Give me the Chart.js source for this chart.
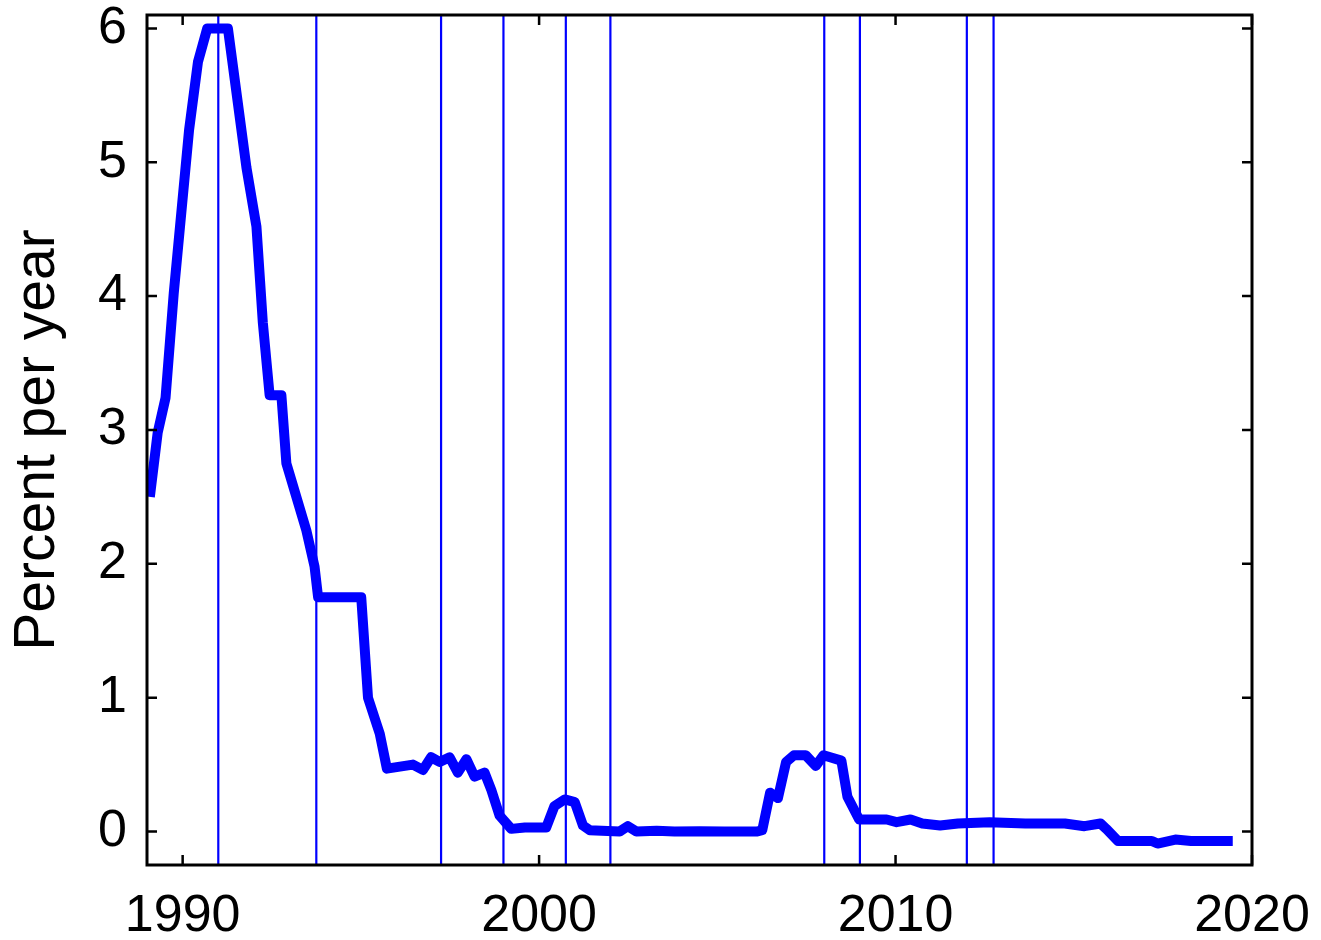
<!DOCTYPE html>
<html>
<head>
<meta charset="utf-8">
<title>Percent per year</title>
<script src="https://cdn.jsdelivr.net/npm/chart.js@4"></script>
<style>
  html, body { margin: 0; padding: 0; background: #fff; }
  #wrap { width: 1321px; height: 940px; }
</style>
</head>
<body>
<div id="wrap"><canvas id="rateChart" width="1321" height="940"></canvas></div>
<script>
// data
const years = [1989.08, 1989.30, 1989.52, 1989.75, 1990.18, 1990.43, 1990.69, 1991.27, 1991.79, 1992.07,
  1992.25, 1992.44, 1992.77, 1992.91, 1993.47, 1993.70, 1993.80, 1995.01, 1995.20, 1995.53,
  1995.73, 1996.46, 1996.74, 1996.97, 1997.21, 1997.49, 1997.72, 1997.96, 1998.19, 1998.47,
  1998.66, 1998.89, 1999.22, 1999.60, 2000.20, 2000.43, 2000.72, 2001.00, 2001.23, 2001.42,
  2002.26, 2002.49, 2002.73, 2003.30, 2003.80, 2004.50, 2005.20, 2005.70, 2006.10, 2006.26,
  2006.48, 2006.70, 2006.93, 2007.15, 2007.48, 2007.76, 2007.98, 2008.48, 2008.65, 2008.98,
  2009.75, 2010.03, 2010.42, 2010.75, 2011.25, 2011.75, 2012.64, 2013.64, 2014.19, 2014.75,
  2015.30, 2015.75, 2015.91, 2016.24, 2017.19, 2017.35, 2017.85, 2018.29, 2019.46];
const rates = [2.50, 2.98, 3.24, 4.02, 5.24, 5.75, 6.00, 6.00, 4.96, 4.52,
  3.80, 3.26, 3.26, 2.75, 2.25, 1.98, 1.75, 1.75, 1.00, 0.73,
  0.47, 0.50, 0.46, 0.555, 0.52, 0.555, 0.44, 0.54, 0.41, 0.44,
  0.31, 0.12, 0.02, 0.03, 0.03, 0.19, 0.24, 0.22, 0.045, 0.01,
  0.00, 0.04, 0.00, 0.005, 0.00, 0.003, 0.00, 0.00, 0.00, 0.01,
  0.29, 0.25, 0.52, 0.57, 0.57, 0.49, 0.57, 0.53, 0.26, 0.09,
  0.09, 0.07, 0.09, 0.06, 0.045, 0.06, 0.07, 0.06, 0.06, 0.06,
  0.04, 0.06, 0.02, -0.07, -0.07, -0.09, -0.06, -0.07, -0.07];
const markerYears = [1991.0, 1993.75, 1997.25, 1999.0, 2000.75, 2002.0, 2008.0, 2009.0, 2012.0, 2012.75];

const xTicks = [1990, 2000, 2010, 2020];
const yTicks = [0, 1, 2, 3, 4, 5, 6];
const xRange = [1989, 2020];
const yRange = [-0.25, 6.1];
const yTitle = "Percent per year";

const BLUE = "rgb(0, 0, 255)";
const FONT = "'Liberation Sans', Arial, Helvetica, sans-serif";

const datasets = [];
markerYears.forEach((m) => {
  datasets.push({
    data: [{ x: m, y: yRange[0] }, { x: m, y: yRange[1] }],
    borderColor: BLUE,
    borderWidth: 2.2,
    pointRadius: 0,
    tension: 0,
    order: 2,
  });
});
datasets.push({
  data: years.map((y, i) => ({ x: y, y: rates[i] })),
  borderColor: BLUE,
  borderWidth: 10,
  borderJoinStyle: "round",
  borderCapStyle: "butt",
  pointRadius: 0,
  tension: 0,
  order: 1,
});

// box round the plot with inward ticks, like the original
const boxPlugin = {
  id: "box",
  afterDraw(chart) {
    const ctx = chart.ctx;
    const a = chart.chartArea;
    const xs = chart.scales.x;
    const ys = chart.scales.y;
    const len = 10;
    ctx.save();
    ctx.strokeStyle = "#000";
    ctx.lineWidth = 2.5;
    ctx.beginPath();
    xTicks.forEach((t) => {
      const px = xs.getPixelForValue(t);
      ctx.moveTo(px, a.bottom);
      ctx.lineTo(px, a.bottom - len);
      ctx.moveTo(px, a.top);
      ctx.lineTo(px, a.top + len);
    });
    yTicks.forEach((t) => {
      const py = ys.getPixelForValue(t);
      ctx.moveTo(a.left, py);
      ctx.lineTo(a.left + len, py);
      ctx.moveTo(a.right, py);
      ctx.lineTo(a.right - len, py);
    });
    ctx.stroke();
    ctx.lineWidth = 3;
    ctx.strokeRect(a.left, a.top, a.right - a.left, a.bottom - a.top);
    ctx.restore();
  },
};

new Chart(document.getElementById("rateChart").getContext("2d"), {
  type: "line",
  data: { datasets: datasets },
  options: {
    responsive: false,
    animation: false,
    layout: { padding: { top: 15, right: 69, left: 0, bottom: 0 } },
    plugins: {
      legend: { display: false },
      tooltip: { enabled: false },
    },
    scales: {
      x: {
        type: "linear",
        min: xRange[0],
        max: xRange[1],
        afterBuildTicks: (s) => { s.ticks = xTicks.map((v) => ({ value: v })); },
        afterFit: (s) => {
          s.height = 75;
          s.paddingLeft = 0;
          s.paddingRight = 0;
        },
        grid: { display: false, drawTicks: false },
        border: { display: false },
        ticks: {
          autoSkip: false,
          maxRotation: 0,
          padding: 20,
          color: "#000",
          font: { family: FONT, size: 52 },
          callback: (v) => String(v),
        },
      },
      y: {
        min: yRange[0],
        max: yRange[1],
        afterBuildTicks: (s) => { s.ticks = yTicks.map((v) => ({ value: v })); },
        afterFit: (s) => {
          s.width = 147;
          s.paddingTop = 0;
          s.paddingBottom = 0;
        },
        grid: { display: false, drawTicks: false },
        border: { display: false },
        title: {
          display: true,
          text: yTitle,
          color: "#000",
          font: { family: FONT, size: 57 },
          padding: { top: 4, bottom: 0 },
        },
        ticks: {
          padding: 20,
          color: "#000",
          font: { family: FONT, size: 52 },
        },
      },
    },
  },
  plugins: [boxPlugin],
});
</script>
</body>
</html>
